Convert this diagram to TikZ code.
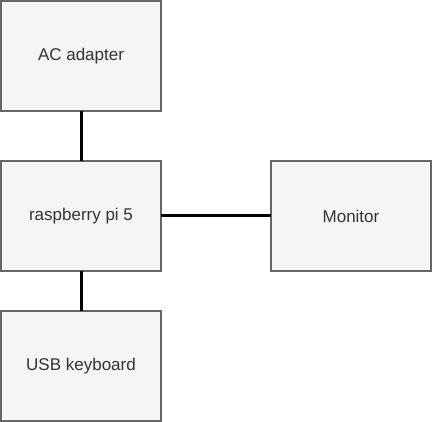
\documentclass[tikz,border=0pt]{standalone}
\usepackage{fontspec}
\setmainfont{Liberation Sans}
\usetikzlibrary{positioning}
\definecolor{BoxGray}{HTML}{F5F5F5}
\definecolor{EdgeGray}{HTML}{666666}
\definecolor{TextGray}{HTML}{333333}

\begin{document}
\begin{tikzpicture}[
  x=1pt,y=1pt,
  node distance=50pt and 110pt,
  every node/.style={font=\fontsize{17}{20}\selectfont,text=TextGray,align=center},
  box/.style={draw=EdgeGray,fill=BoxGray,line width=1.3pt,minimum width=160pt,minimum height=110pt,outer sep=0pt},
  link/.style={line width=3pt,color=black}
]
\useasboundingbox (0,0) rectangle (432,422);
\node[box] (ac) at (81,366) {AC adapter};
\node[box,below=of ac] (pi) {raspberry pi 5};
\node[box,right=of pi] (mon) {Monitor};
\node[box,below=40pt of pi] (kbd) {USB keyboard};
\draw[link] (ac.south) -- (pi.north);
\draw[link] (pi.east) -- (mon.west);
\draw[link] (pi.south) -- (kbd.north);
\end{tikzpicture}
\end{document}
